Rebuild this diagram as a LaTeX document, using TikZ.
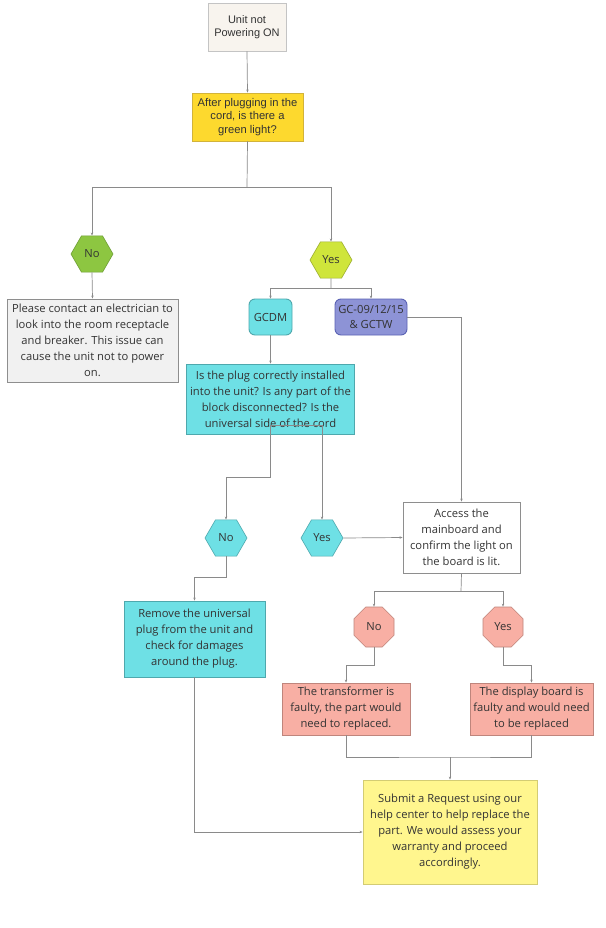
\documentclass[tikz,border=0pt]{standalone}
\usepackage{fontspec}
\setmainfont{Open Sans}
\newfontfamily\arialf{Liberation Sans}
\usetikzlibrary{shapes.geometric,arrows.meta}
\definecolor{txt}{HTML}{333333}
\definecolor{ln}{HTML}{8A8A8A}
\definecolor{startB}{HTML}{C4C4C4}\definecolor{startF}{HTML}{F8F4EE}
\definecolor{q1B}{HTML}{D2B33A}\definecolor{q1F}{HTML}{FDD92E}
\definecolor{grnB}{HTML}{6E9E36}\definecolor{grnF}{HTML}{8DC641}
\definecolor{limB}{HTML}{9CAE30}\definecolor{limF}{HTML}{CFE53B}
\definecolor{grayB}{HTML}{8E8E8E}\definecolor{grayF}{HTML}{F1F1F1}
\definecolor{cyB}{HTML}{4EA8AD}\definecolor{cyF}{HTML}{6EE0E5}
\definecolor{puB}{HTML}{5A62B4}\definecolor{puF}{HTML}{8D93D6}
\definecolor{saB}{HTML}{BF857C}\definecolor{saF}{HTML}{F8AFA4}
\definecolor{yeB}{HTML}{D3CC73}\definecolor{yeF}{HTML}{FFF68E}
\tikzset{
  box/.style={draw=#1, line width=0.9pt, inner sep=1pt, align=center, text=txt, font=\fontsize{11.2}{16}\selectfont},
  hexa/.style={regular polygon, regular polygon sides=6, minimum size=42pt, inner sep=0pt, draw=#1, line width=0.6pt, text=txt, font=\fontsize{11.2}{13}\selectfont},
  octa/.style={regular polygon, regular polygon sides=8, minimum size=43.3pt, inner sep=0pt, draw=#1, line width=0.6pt, text=txt, font=\fontsize{11.2}{13}\selectfont},
  conn/.style={draw=ln, line width=0.7pt},
  arr/.style={conn, -{Stealth[length=3pt,width=2.4pt]}},
}
\begin{document}
\begin{tikzpicture}[x=1pt,y=-1pt]
\useasboundingbox (0,0) rectangle (605,928);
\fill[white] (0,0) rectangle (605,928);
% nodes
\node[box=startB, fill=startF, minimum width=78, minimum height=48, font=\arialf\fontsize{11}{13.5}\selectfont] (start) at (247,27) {Unit not\\Powering ON};
\node[box=q1B, fill=q1F, minimum width=111, minimum height=48, font=\arialf\fontsize{11.2}{13.5}\selectfont] (q1) at (247.5,117) {After plugging in the\\cord, is there a\\green light?};
\node[hexa=grnB, fill=grnF] (no1) at (92,254) {No};
\node[hexa=limB, fill=limF] (yes1) at (331,260) {Yes};
\node[box=grayB, fill=grayF, minimum width=171, minimum height=83] (elec) at (92.5,340.5) {Please contact an electrician to\\look into the room receptacle\\and breaker. This issue can\\cause the unit not to power\\on.};
\node[box=cyB, fill=cyF, rounded corners=6pt, minimum width=43, minimum height=36] (gcdm) at (270.5,317) {GCDM};
\node[box=puB, fill=puF, rounded corners=6pt, minimum width=72, minimum height=36, font=\fontsize{11.2}{15}\selectfont] (gc) at (371,317) {GC-09/12/15\\\& GCTW};
\node[box=cyB, fill=cyF, minimum width=168, minimum height=70] (q2) at (270.5,399) {Is the plug correctly installed\\into the unit? Is any part of the\\block disconnected? Is the\\universal side of the cord};
\node[hexa=cyB, fill=cyF] (no2) at (226,538) {No};
\node[hexa=cyB, fill=cyF] (yes2) at (322,538) {Yes};
\node[box=grayB, fill=white, minimum width=117, minimum height=71] (access) at (461.5,537.5) {Access the\\mainboard and\\confirm the light on\\the board is lit.};
\node[box=cyB, fill=cyF, minimum width=141, minimum height=76] (remove) at (194.5,639) {Remove the universal\\plug from the unit and\\check for damages\\around the plug.};
\node[octa=saB, fill=saF] (no3) at (374,627) {No};
\node[octa=saB, fill=saF] (yes3) at (503,627) {Yes};
\node[box=saB, fill=saF, minimum width=128, minimum height=52] (trans) at (346,709) {The transformer is\\faulty, the part would\\need to replaced.};
\node[box=saB, fill=saF, minimum width=123, minimum height=52] (disp) at (531.5,709) {The display board is\\faulty and would need\\to be replaced};
\node[box=yeB, fill=yeF, minimum width=174, minimum height=104] (submit) at (450,832) {Submit a Request using our\\help center to help replace the\\part. We would assess your\\warranty and proceed\\accordingly.};
% helper coordinates
\coordinate (f1) at (247,187);
\coordinate (f2) at (331,288);
\coordinate (qs) at (270.5,425);
\coordinate (f3) at (461,591);
\coordinate (m1) at (450,757);
% connectors
\draw[arr] (start.south) -- (q1.north);
\draw[conn] (q1.south) -- (f1);
\draw[arr] (f1) -| (no1.north);
\draw[arr] (f1) -| (yes1.north);
\draw[arr] (no1.south) -- (elec.north);
\draw[conn] (yes1.south) -- (f2);
\draw[arr] (f2) -| (gcdm.north);
\draw[arr] (f2) -| (gc.north);
\draw[arr] (gc.east) -| (access.north);
\draw[arr] (gcdm.south) -- (q2.north);
\draw[arr] (qs) -- ++(0,52) -| (no2.north);
\draw[arr] (qs) -| (yes2.north);
\draw[arr] (yes2.east) -- (access.west);
\draw[arr] (no2.south) -- ++(0,21) -| (remove.north);
\draw[conn] (access.south) -- (f3);
\draw[arr] (f3) -| (no3.north);
\draw[arr] (f3) -| (yes3.north);
\draw[arr] (no3.south) -- ++(0,18) -| (trans.north);
\draw[arr] (yes3.south) -- ++(0,18) -| (disp.north);
\draw[conn] (trans.south) |- (m1) -| (disp.south);
\draw[arr] (m1) -- (submit.north);
\draw[arr] (remove.south) |- (submit.west);
\end{tikzpicture}
\end{document}
